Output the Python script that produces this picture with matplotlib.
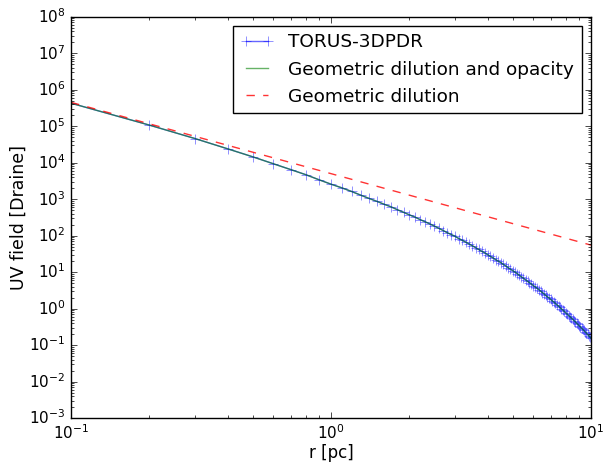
import numpy as np
import matplotlib
matplotlib.use("Agg")
import matplotlib.pyplot as plt

# TORUS-3DPDR radial grid [pc]
r_torus = [0.1, 0.2, 0.3, 0.4, 0.5, 0.6, 0.7, 0.8, 0.9, 1.0,
           1.1, 1.2, 1.3, 1.4, 1.5, 1.6, 1.7, 1.8, 1.9, 2.0,
           2.1, 2.2, 2.3, 2.4, 2.5, 2.6, 2.7, 2.8, 2.9, 3.0,
           3.1, 3.2, 3.3, 3.4, 3.5, 3.6, 3.7, 3.8, 3.9, 4.0,
           4.1, 4.2, 4.3, 4.4, 4.5, 4.6, 4.7, 4.8, 4.9, 5.0,
           5.1, 5.2, 5.3, 5.4, 5.5, 5.6, 5.7, 5.8, 5.9, 6.0,
           6.1, 6.2, 6.3, 6.4, 6.5, 6.6, 6.7, 6.8, 6.9, 7.0,
           7.1, 7.2, 7.3, 7.4, 7.5, 7.6, 7.7, 7.8, 7.9, 8.0,
           8.1, 8.2, 8.3, 8.4, 8.5, 8.6, 8.7, 8.8, 8.9, 9.0,
           9.1, 9.2, 9.3, 9.4, 9.5, 9.6, 9.7, 9.8, 9.9, 10.0]

# log10 UV field [Draine]
log_uv_torus = [5.63, 5.03, 4.66, 4.38, 4.16, 3.97, 3.81, 3.67, 3.53, 3.41,
                3.31, 3.21, 3.11, 3.02, 2.94, 2.86, 2.79, 2.71, 2.64, 2.57,
                2.51, 2.44, 2.38, 2.32, 2.26, 2.20, 2.14, 2.08, 2.03, 1.98,
                1.92, 1.87, 1.82, 1.77, 1.72, 1.67, 1.62, 1.57, 1.53, 1.48,
                1.43, 1.39, 1.34, 1.30, 1.26, 1.21, 1.17, 1.12, 1.08, 1.04,
                1.00, 0.96, 0.91, 0.87, 0.83, 0.79, 0.75, 0.71, 0.67, 0.63,
                0.59, 0.56, 0.52, 0.48, 0.44, 0.40, 0.36, 0.32, 0.29, 0.25,
                0.21, 0.18, 0.14, 0.10, 0.07, 0.03, -0.01, -0.04, -0.08, -0.12,
                -0.15, -0.19, -0.22, -0.26, -0.29, -0.33, -0.36, -0.40, -0.43, -0.47,
                -0.50, -0.54, -0.57, -0.60, -0.64, -0.67, -0.71, -0.74, -0.78, -0.81]

# geometric dilution only
r_geo = [0.1, 1.0, 10.0]
uv_geo = [4.5e5, 5.0e3, 55.0]

uv_torus = 10 ** np.array(log_uv_torus)

plt.style.use('classic')
plt.rcParams['font.family'] = ['DejaVu Sans']
plt.rcParams['mathtext.fontset'] = 'dejavusans'

fig = plt.figure(figsize=(6.08, 4.66), dpi=100, facecolor='white')
ax = fig.add_axes([0.117, 0.103, 0.855, 0.861])

ax.loglog(r_torus, uv_torus, color='b', marker='+', ms=7, alpha=0.6, label='TORUS-3DPDR')
ax.loglog(r_torus, uv_torus, color='g', alpha=0.6, label='Geometric dilution and opacity')
ax.loglog(r_geo, uv_geo, color='r', ls='--', alpha=0.8, label='Geometric dilution')

ax.set_xlim(0.1, 10)
ax.set_ylim(1e-3, 1e8)
ax.set_xlabel('r [pc]', fontsize=12, labelpad=1)
ax.set_ylabel('UV field [Draine]', fontsize=12.5, labelpad=1)
ax.tick_params(labelsize=11)
ax.legend(loc='upper right', fontsize=13.3, numpoints=2, handlelength=1.8)

fig.savefig('out.png', dpi=100, facecolor='white')
